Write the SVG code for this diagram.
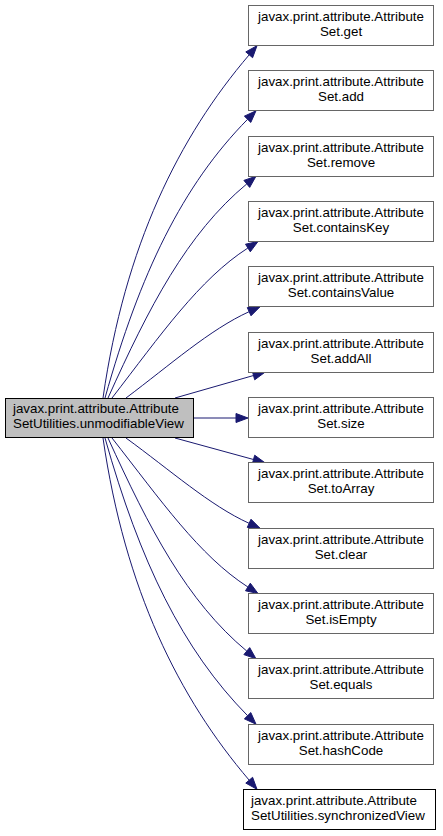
<svg xmlns="http://www.w3.org/2000/svg" width="443" height="836" viewBox="0 0 443 836">
<style>
text{font-family:"Liberation Sans",Arial,sans-serif;font-size:13.33px;fill:#000}
.c{text-anchor:middle}
.n rect{fill:#fff;stroke:#666;stroke-width:1}
.root rect{fill:#bfbfbf;stroke:#000}
.last rect{stroke:#000}
.e path{fill:none;stroke:#191970;stroke-width:1}
.e polygon{fill:#191970;stroke:#191970;stroke-width:1}
</style>
<rect width="443" height="836" fill="#fff"/>
<g id="connectors" class="e">
<path d="M103,398 C125,245 179,137 249.2,54.8"/><polygon points="257,45.7 252.6,57.7 245.8,51.9"/>
<path d="M105,398 C140,273 182.5,185.4 247.6,119.3"/><polygon points="256,110.8 250.8,122.45 244.4,116.15"/>
<path d="M108,398 C149,307 186.7,233.8 246.8,183.9"/><polygon points="256,176.2 249.7,187.4 243.9,180.4"/>
<path d="M112,398 C160.8,334.8 199.2,279.3 247.9,248"/><polygon points="258,241.5 250.3,251.8 245.5,244.2"/>
<path d="M126,398 C170,365 210,329.4 249.1,311.7"/><polygon points="260,306.8 251,315.8 247.3,307.6"/>
<path d="M175,398 L253.5,375.5"/><polygon points="265,372.2 254.7,379.8 252.3,371.2"/>
<path d="M193,418 L236,418"/><polygon points="248,418 236,413.5 236,422.5"/>
<path d="M175,438 L253.5,459.5"/><polygon points="265,462.8 254.7,455.2 252.3,463.8"/>
<path d="M126,438 C170,470 210,505.6 249.1,523.3"/><polygon points="260,528.2 251,519.2 247.3,527.4"/>
<path d="M112,438 C160.8,500.2 199.2,555.7 247.9,587"/><polygon points="258,593.5 250.3,583.2 245.5,590.8"/>
<path d="M108,438 C149,528 186.7,601.2 246.8,651.1"/><polygon points="256,658.8 249.7,647.6 243.9,654.6"/>
<path d="M105,438 C140,562 182.5,649.6 247.6,715.7"/><polygon points="256,724.2 250.8,712.55 244.4,718.85"/>
<path d="M103,438 C125,590 179,698 249.2,780.2"/><polygon points="257,789.3 252.6,777.3 245.8,783.1"/>
</g>
<g id="node_root" class="n root"><rect x="5.5" y="398.5" width="188" height="39"/><text x="13" y="413">javax.print.attribute.Attribute</text><text x="13" y="428">SetUtilities.unmodifiableView</text></g>
<g id="node_get" class="n"><rect x="248.5" y="5.5" width="185" height="40"/><text class="c" x="341" y="21">javax.print.attribute.Attribute</text><text class="c" x="341" y="36">Set.get</text></g>
<g id="node_add" class="n"><rect x="248.5" y="70.5" width="185" height="40"/><text class="c" x="341" y="86">javax.print.attribute.Attribute</text><text class="c" x="341" y="101">Set.add</text></g>
<g id="node_remove" class="n"><rect x="248.5" y="136.5" width="185" height="40"/><text class="c" x="341" y="152">javax.print.attribute.Attribute</text><text class="c" x="341" y="167">Set.remove</text></g>
<g id="node_containsKey" class="n"><rect x="248.5" y="201.5" width="185" height="40"/><text class="c" x="341" y="217">javax.print.attribute.Attribute</text><text class="c" x="341" y="232">Set.containsKey</text></g>
<g id="node_containsValue" class="n"><rect x="248.5" y="266.5" width="185" height="40"/><text class="c" x="341" y="282">javax.print.attribute.Attribute</text><text class="c" x="341" y="297">Set.containsValue</text></g>
<g id="node_addAll" class="n"><rect x="248.5" y="332.5" width="185" height="40"/><text class="c" x="341" y="348">javax.print.attribute.Attribute</text><text class="c" x="341" y="363">Set.addAll</text></g>
<g id="node_size" class="n"><rect x="248.5" y="397.5" width="185" height="40"/><text class="c" x="341" y="413">javax.print.attribute.Attribute</text><text class="c" x="341" y="428">Set.size</text></g>
<g id="node_toArray" class="n"><rect x="248.5" y="462.5" width="185" height="40"/><text class="c" x="341" y="478">javax.print.attribute.Attribute</text><text class="c" x="341" y="493">Set.toArray</text></g>
<g id="node_clear" class="n"><rect x="248.5" y="528.5" width="185" height="40"/><text class="c" x="341" y="544">javax.print.attribute.Attribute</text><text class="c" x="341" y="559">Set.clear</text></g>
<g id="node_isEmpty" class="n"><rect x="248.5" y="593.5" width="185" height="40"/><text class="c" x="341" y="609">javax.print.attribute.Attribute</text><text class="c" x="341" y="624">Set.isEmpty</text></g>
<g id="node_equals" class="n"><rect x="248.5" y="658.5" width="185" height="40"/><text class="c" x="341" y="674">javax.print.attribute.Attribute</text><text class="c" x="341" y="689">Set.equals</text></g>
<g id="node_hashCode" class="n"><rect x="248.5" y="724.5" width="185" height="40"/><text class="c" x="341" y="740">javax.print.attribute.Attribute</text><text class="c" x="341" y="755">Set.hashCode</text></g>
<g id="node_synchronizedView" class="n last"><rect x="243.5" y="789.5" width="192" height="40"/><text x="251" y="805">javax.print.attribute.Attribute</text><text x="251" y="820">SetUtilities.synchronizedView</text></g>
</svg>
